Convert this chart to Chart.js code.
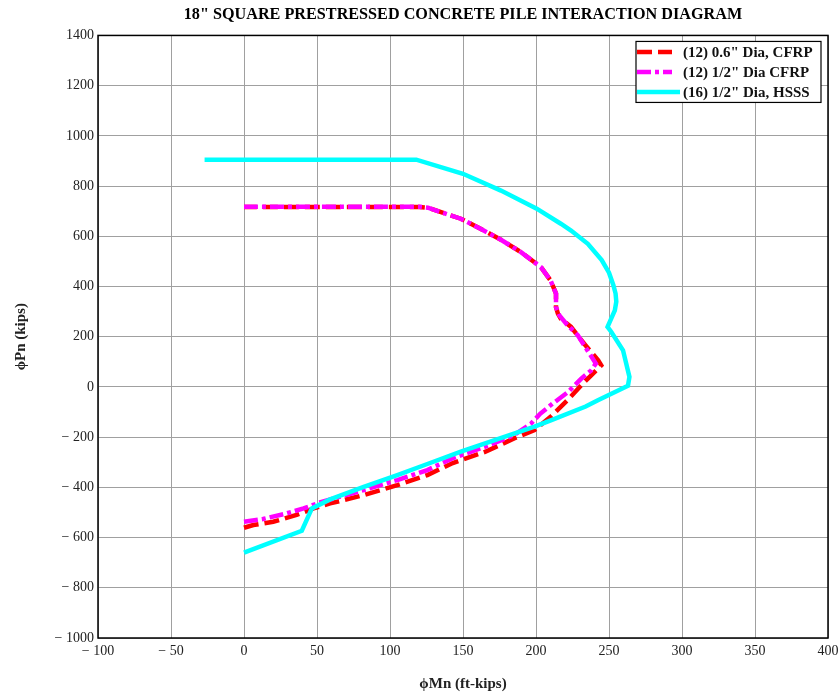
<!DOCTYPE html>
<html>
<head>
<meta charset="utf-8">
<script src="https://cdn.jsdelivr.net/npm/chart.js@4.4.0/dist/chart.umd.min.js"></script>
<style>
html,body{margin:0;padding:0;background:#fff;}
#wrap{width:839px;height:693px;position:relative;}
</style>
</head>
<body>
<div id="wrap"><canvas id="c" width="839" height="693"></canvas></div>
<script>
// ---- text ----
const chartTitle = '18" SQUARE PRESTRESSED CONCRETE PILE INTERACTION DIAGRAM';
const xAxisTitle = 'ϕMn (ft-kips)';
const yAxisTitle = 'ϕPn (kips)';
const seriesNames = ['(12) 0.6" Dia, CFRP', '(12) 1/2" Dia CFRP', '(16) 1/2" Dia, HSSS'];

// ---- tick labels ----
const xTicks = [-100, -50, 0, 50, 100, 150, 200, 250, 300, 350, 400];
const yTicks = [-1000, -800, -600, -400, -200, 0, 200, 400, 600, 800, 1000, 1200, 1400];

// ---- series: (12) 0.6" Dia, CFRP ----
const cfrp06Moment = [0, 6.4, 20, 36, 47.6, 59, 82, 105, 125.6, 143, 165.8, 185, 199, 210, 222, 232, 237.8, 244.7, 242.6, 233, 224, 217, 215, 213.7, 213.7, 210, 203.4, 189.7, 176, 162, 148.5, 137, 126, 120, 0];
const cfrp06Axial  = [-561, -550, -537, -510, -484, -464, -431, -391, -351, -303, -257, -205, -172, -119, -50, 13, 46, 86, 106, 172, 239, 272, 292, 318, 372, 424, 477, 537, 586, 630, 670, 692, 714, 717, 717];

// ---- series: (12) 1/2" Dia CFRP ----
const cfrp05Moment = [0, 13, 29, 40.8, 52, 82, 105, 125.6, 143, 165.8, 185, 196.6, 203, 211.5, 222, 231, 237.8, 241, 236.6, 228.6, 221, 216, 213.7, 213.7, 210, 203.4, 189.7, 176, 162, 148.5, 137, 126, 120, 0];
const cfrp05Axial  = [-537, -526, -504, -484, -460, -411, -371, -331, -284, -237, -192, -146, -106, -66, -20, 33, 66, 93, 133, 206, 250, 285, 318, 372, 424, 477, 537, 586, 630, 670, 692, 714, 718, 718];

// ---- series: (16) 1/2" Dia, HSSS ----
const hsssMoment = [0, 39.6, 46.5, 59, 82, 105, 125.6, 149, 199, 211, 234, 242.4, 263, 264, 259.6, 251.6, 249, 254, 255, 254.5, 253, 250, 245, 235.5, 224, 217, 200.5, 176, 150, 118, -27];
const hsssAxial  = [-660, -573, -484, -448, -398, -351, -307, -257, -158, -131, -78, -53, 5, 40, 146, 219, 239, 305, 340, 372, 405, 455, 505, 570, 623, 650, 710, 782, 849, 905, 905];

const toPoints = (xs, ys) => xs.map((x, i) => ({x: x, y: ys[i]}));

const SERIF = '"Liberation Serif", "Times New Roman", serif';

const framePlugin = {
  id: 'frame',
  beforeDatasetsDraw(chart) {
    const {ctx, chartArea: a} = chart;
    ctx.save();
    ctx.strokeStyle = '#000';
    ctx.lineWidth = 1.5;
    ctx.strokeRect(a.left, a.top, a.right - a.left, a.bottom - a.top);
    ctx.restore();
  }
};

const boxLegendPlugin = {
  id: 'boxLegend',
  afterDraw(chart) {
    const {ctx, chartArea: a} = chart;
    const left = a.right - 192, top = a.top + 6, w = 185, h = 61;
    ctx.save();
    ctx.fillStyle = '#fff';
    ctx.fillRect(left, top, w, h);
    ctx.strokeStyle = '#000';
    ctx.lineWidth = 1.2;
    ctx.strokeRect(left, top, w, h);
    chart.data.datasets.forEach((ds, i) => {
      const y = top + 10.5 + i * 20;
      ctx.beginPath();
      ctx.strokeStyle = ds.borderColor;
      ctx.lineWidth = ds.borderWidth;
      ctx.setLineDash(ds.borderDash || []);
      ctx.lineCap = 'butt';
      ctx.moveTo(left + 1, y);
      ctx.lineTo(left + (i === 2 ? 44 : 36), y);
      ctx.stroke();
      ctx.setLineDash([]);
      ctx.fillStyle = '#111';
      ctx.font = 'bold 15px ' + SERIF;
      ctx.textBaseline = 'middle';
      ctx.textAlign = 'left';
      ctx.fillText(ds.label, left + 47, y + 1);
    });
    ctx.restore();
  }
};

const tickFmt = v => (v < 0 ? '\u2212 ' + Math.abs(v) : String(v));

new Chart(document.getElementById('c'), {
  type: 'scatter',
  data: {
    datasets: [
      {
        label: seriesNames[0],
        data: toPoints(cfrp06Moment, cfrp06Axial),
        showLine: true, borderColor: '#ff0000', borderWidth: 4.5,
        borderDash: [15, 6], pointRadius: 0, fill: false, tension: 0, order: 2
      },
      {
        label: seriesNames[1],
        data: toPoints(cfrp05Moment, cfrp05Axial),
        showLine: true, borderColor: '#ff00ff', borderWidth: 4.5,
        borderDash: [14, 4, 4, 4], pointRadius: 0, fill: false, tension: 0, order: 1
      },
      {
        label: seriesNames[2],
        data: toPoints(hsssMoment, hsssAxial),
        showLine: true, borderColor: '#00ffff', borderWidth: 4.5,
        pointRadius: 0, fill: false, tension: 0, order: 0
      }
    ]
  },
  options: {
    responsive: false,
    animation: false,
    devicePixelRatio: 1,
    layout: {padding: {top: 0, right: 0, bottom: 0, left: 0}},
    plugins: {
      legend: {display: false},
      tooltip: {enabled: false},
      title: {
        display: true,
        text: chartTitle,
        fullSize: false,
        color: '#000',
        font: {family: SERIF, size: 16.2, weight: 'bold'},
        padding: {top: 5, bottom: 11}
      }
    },
    scales: {
      x: {
        type: 'linear',
        min: -100, max: 400,
        afterBuildTicks: s => { s.ticks = xTicks.map(v => ({value: v})); },
        afterFit: s => { s.height = 55; s.paddingRight = 11; },
        grid: {color: '#a0a0a0', lineWidth: 1, drawTicks: false},
        border: {display: false},
        ticks: {
          callback: tickFmt, color: '#222', padding: 5, maxRotation: 0, autoSkip: false,
          font: {family: SERIF, size: 14}
        },
        title: {
          display: true, text: xAxisTitle, color: '#222',
          font: {family: SERIF, size: 15, weight: 'bold'},
          padding: {top: 0, bottom: 0}
        }
      },
      y: {
        type: 'linear',
        min: -1000, max: 1400,
        afterBuildTicks: s => { s.ticks = yTicks.map(v => ({value: v})); },
        afterFit: s => { s.width = 98; },
        grid: {color: '#a0a0a0', lineWidth: 1, drawTicks: false},
        border: {display: false},
        ticks: {
          callback: tickFmt, color: '#222', padding: 4, autoSkip: false,
          font: {family: SERIF, size: 14}
        },
        title: {
          display: true, text: yAxisTitle, color: '#222',
          font: {family: SERIF, size: 15, weight: 'bold'},
          padding: {top: 12, bottom: 0}
        }
      }
    }
  },
  plugins: [framePlugin, boxLegendPlugin]
});
</script>
</body>
</html>
